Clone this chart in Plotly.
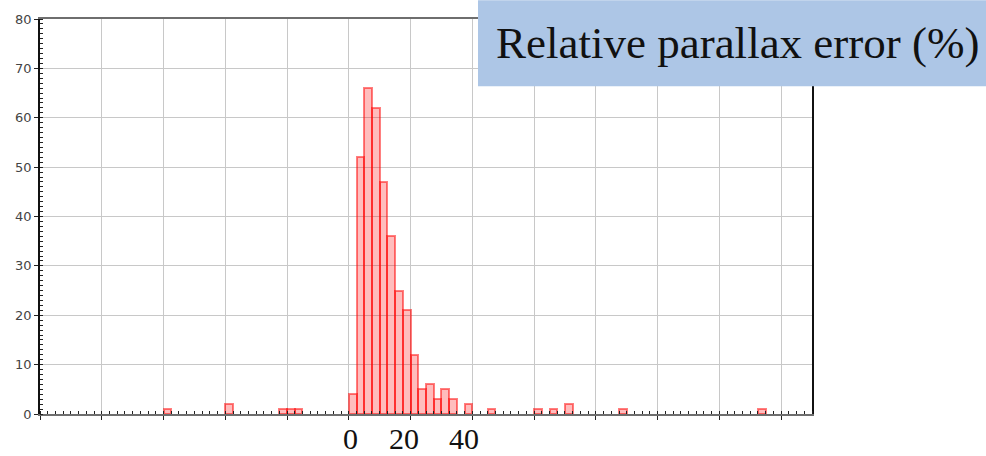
import plotly.graph_objects as go

# Histogram of relative parallax error, 2.5 % bins (left edge of each bin)
bin_start = [-60, -40, -22.5, -20, -17.5,
             0, 2.5, 5, 7.5, 10, 12.5, 15, 17.5, 20, 22.5, 25, 27.5, 30, 32.5,
             37.5, 45, 60, 65, 70, 87.5, 132.5]
counts = [1, 2, 1, 1, 1,
          4, 52, 66, 62, 47, 36, 25, 21, 12, 5, 6, 3, 5, 3,
          2, 1, 1, 1, 2, 1, 1]
bin_width = 2.5

y_ticks = [0, 10, 20, 30, 40, 50, 60, 70, 80]
x_labels = ["0", "20", "40"]
title_text = "Relative parallax error (%)"

centers = [b + bin_width / 2 for b in bin_start]

fig = go.Figure()
fig.add_trace(go.Bar(
    x=centers,
    y=counts,
    width=bin_width,
    marker=dict(color="rgba(255,0,0,0.26)",
                line=dict(color="rgba(255,0,0,0.5)", width=2)),
    hoverinfo="skip",
))

W, H = 986, 456
ml, mr, mt, mb = 40, 174, 15, 42
pw, ph = W - ml - mr, H - mt - mb


def px_x(p):
    return (p - ml) / pw


def px_y(p):
    return (H - mb - p) / ph


fig.update_layout(
    width=W, height=H,
    margin=dict(l=ml, r=mr, t=mt, b=mb, pad=0),
    paper_bgcolor="white", plot_bgcolor="white",
    showlegend=False, bargap=0,
    xaxis=dict(
        range=[-100, 150], dtick=20, tick0=0,
        showgrid=True, gridcolor="#c8c8c8", gridwidth=1,
        showline=True, linecolor="#6e6e6e", linewidth=1.5, mirror=True,
        ticks="outside", ticklen=4, tickcolor="#222", showticklabels=False,
        zeroline=False,
        minor=dict(dtick=bin_width, tick0=0, ticks="inside", ticklen=3,
                   tickcolor="#222", showgrid=False),
    ),
    yaxis=dict(
        range=[0, 80], tickvals=y_ticks,
        showgrid=True, gridcolor="#c8c8c8", gridwidth=1,
        showline=True, linecolor="#111", linewidth=1.5, mirror=True,
        ticks="outside", ticklen=4, tickcolor="#222",
        tickfont=dict(family="DejaVu Sans", size=13, color="#444"),
        zeroline=False,
        minor=dict(dtick=1, ticks="inside", ticklen=3, tickcolor="#222",
                   showgrid=False),
    ),
)

# Caption box in the upper right corner
fig.add_shape(type="rect", xref="paper", yref="paper",
              x0=px_x(478), x1=px_x(990), y0=px_y(83), y1=px_y(-4),
              fillcolor="#adc6e6", line=dict(width=0), layer="above")
fig.add_annotation(xref="paper", yref="paper", x=px_x(738), y=px_y(39),
                   text=title_text, showarrow=False,
                   xanchor="center", yanchor="middle",
                   font=dict(family="Liberation Serif", size=45, color="#111"))

# Axis value labels under the histogram
for lab, px in zip(x_labels, [350, 404, 464]):
    fig.add_annotation(xref="paper", yref="paper", x=px_x(px), y=px_y(456),
                       text=lab, showarrow=False, borderpad=0,
                       xanchor="center", yanchor="bottom",
                       font=dict(family="Liberation Serif", size=30, color="#111"))

fig.write_html("out.html")
